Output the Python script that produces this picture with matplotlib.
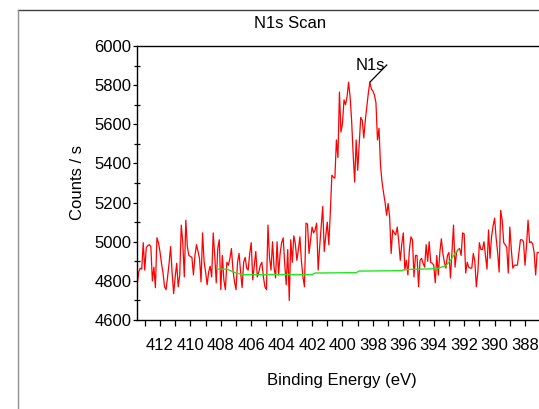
import numpy as np
import matplotlib
matplotlib.use("Agg")
import matplotlib.pyplot as plt
from matplotlib.lines import Line2D
from matplotlib.ticker import MultipleLocator

plt.rcParams['font.family'] = ['Liberation Sans', 'DejaVu Sans']

# N1s scan, 0.1 eV steps from 413.5 eV downwards
e_start = 413.5
e_step = 0.1
counts = [
    4780, 4845, 4865, 4860, 4995, 4855, 4970, 4980, 4985, 4975,
    4800, 4870, 4765, 5020, 4995, 4950, 4890, 4840, 4770, 4755,
    4820, 4890, 4975, 4840, 4735, 4820, 4890, 4770, 4830, 5085,
    4995, 4820, 5110, 4975, 4930, 4925, 4920, 4830, 4930, 4985,
    4950, 4915, 4795, 5045, 4900, 4845, 4780, 4845, 4875, 4820,
    5045, 4930, 4790, 4965, 5010, 4755, 4930, 4805, 4755, 4895,
    4880, 4915, 4965, 4855, 4795, 4755, 4895, 4940, 4845, 4765,
    4895, 4920, 4865, 4855, 4940, 4995, 4805, 4880, 4950, 4820,
    4845, 4880, 4895, 4820, 4770, 4755, 5085, 4920, 4855, 5000,
    4870, 4815, 5000, 4830, 4940, 4995, 5020, 4890, 4780, 4960,
    4700, 5010, 4895, 5030, 4990, 4905, 4960, 5025, 4900, 4820,
    4770, 5095, 5090, 4940, 5010, 5075, 5045, 5060, 5095, 4855,
    4975, 5080, 5180, 4950, 5030, 5100, 4985, 5150, 5340, 5330,
    5325, 5520, 5430, 5765, 5560, 5605, 5725, 5700, 5740, 5815,
    5740, 5620, 5450, 5305, 5520, 5365, 5505, 5635, 5620, 5530,
    5620, 5690, 5760, 5815, 5780, 5770, 5750, 5710, 5520, 5580,
    5390, 5305, 5250, 5200, 5135, 5195, 5125, 4940, 5060, 5045,
    5035, 5075, 5000, 4905, 4990, 5045, 4855, 4905, 4830, 4960,
    5025, 5010, 4820, 4930, 4930, 4770, 4905, 4915, 4890, 4870,
    4985, 4900, 5000, 4895, 4890, 4880, 4790, 4930, 4830, 4945,
    5015, 4940, 4895, 4865, 4930, 4945, 4815, 4950, 5085, 4870,
    4945, 4960, 4965, 4930, 5045, 5040, 4840, 4895, 4870, 4865,
    4865, 4940, 4900, 4770, 4845, 4995, 4960, 4960, 5000, 4930,
    4860, 5060, 4915, 5025, 5080, 5120, 5020, 4945, 4845, 5160,
    5110, 4995, 4985, 4970, 4840, 5075, 4960, 4865, 4880, 4880,
    4880, 4945, 5010, 5010, 5000, 4880, 4980, 5110, 4995, 5000,
    4990, 4945, 4830, 4945, 4945,
]
energy = e_start - e_step * np.arange(len(counts))

# background (green) under the peak
bg_energy = [408.25, 407.6, 407.0, 406.5, 402.0, 401.8, 399.1, 398.9,
             396.1, 395.9, 393.8, 393.2, 392.9, 392.6, 392.4]
bg_counts = [4860, 4860, 4840, 4832, 4832, 4840, 4842, 4850,
             4852, 4858, 4862, 4878, 4905, 4940, 4960]

peak_label = "N1s"
peak_pos = (398.19, 5816)

W, H = 539, 409
fig = plt.figure(figsize=(W / 100, H / 100), dpi=100)
ax = fig.add_axes([137 / W, 1 - 320 / H, 1 - 137 / W, (320 - 46) / H])

ax.plot(energy, counts, color='#ff0000', lw=0.9)
ax.plot(bg_energy, bg_counts, color='#22e622', lw=1.0)

# peak label with leader line
ax.plot([peak_pos[0], peak_pos[0] - 1.1], [peak_pos[1], peak_pos[1] + 87],
        color='black', lw=0.9)
ax.text(peak_pos[0], 5898, peak_label, ha='center', va='center', fontsize=12)

ax.set_xlim(413.51, 387.08)
ax.set_ylim(4600, 6000)
ax.xaxis.set_major_locator(MultipleLocator(2))
ax.xaxis.set_minor_locator(MultipleLocator(1))
ax.yaxis.set_major_locator(MultipleLocator(200))
ax.yaxis.set_minor_locator(MultipleLocator(100))

ax.spines['right'].set_visible(False)
for s in ['left', 'top', 'bottom']:
    ax.spines[s].set_linewidth(1.0)

ax.tick_params(axis='x', which='both', direction='out', length=4.3, width=0.9,
               labelsize=12, pad=9)
ax.tick_params(axis='y', which='major', direction='out', length=3, width=0.9,
               labelsize=12, pad=1)
ax.tick_params(axis='y', which='minor', direction='inout', length=4, width=0.9)

fig.text(77 / W, 1 - 183 / H, 'Counts / s', rotation=90, ha='center',
         va='center', fontsize=12)
fig.text(342 / W, 1 - 380 / H, 'Binding Energy (eV)', ha='center',
         va='center', fontsize=12)
fig.text(290 / W, 1 - 24 / H, 'N1s Scan', ha='center', va='center',
         fontsize=12)

# outer frame
fig.add_artist(Line2D([18 / W, 1], [1 - 10 / H, 1 - 10 / H],
                      transform=fig.transFigure, color='#404040', lw=1.0))
fig.add_artist(Line2D([18 / W, 18 / W], [0, 1 - 10 / H],
                      transform=fig.transFigure, color='#909090', lw=1.0))

fig.savefig('out.png', dpi=100)
